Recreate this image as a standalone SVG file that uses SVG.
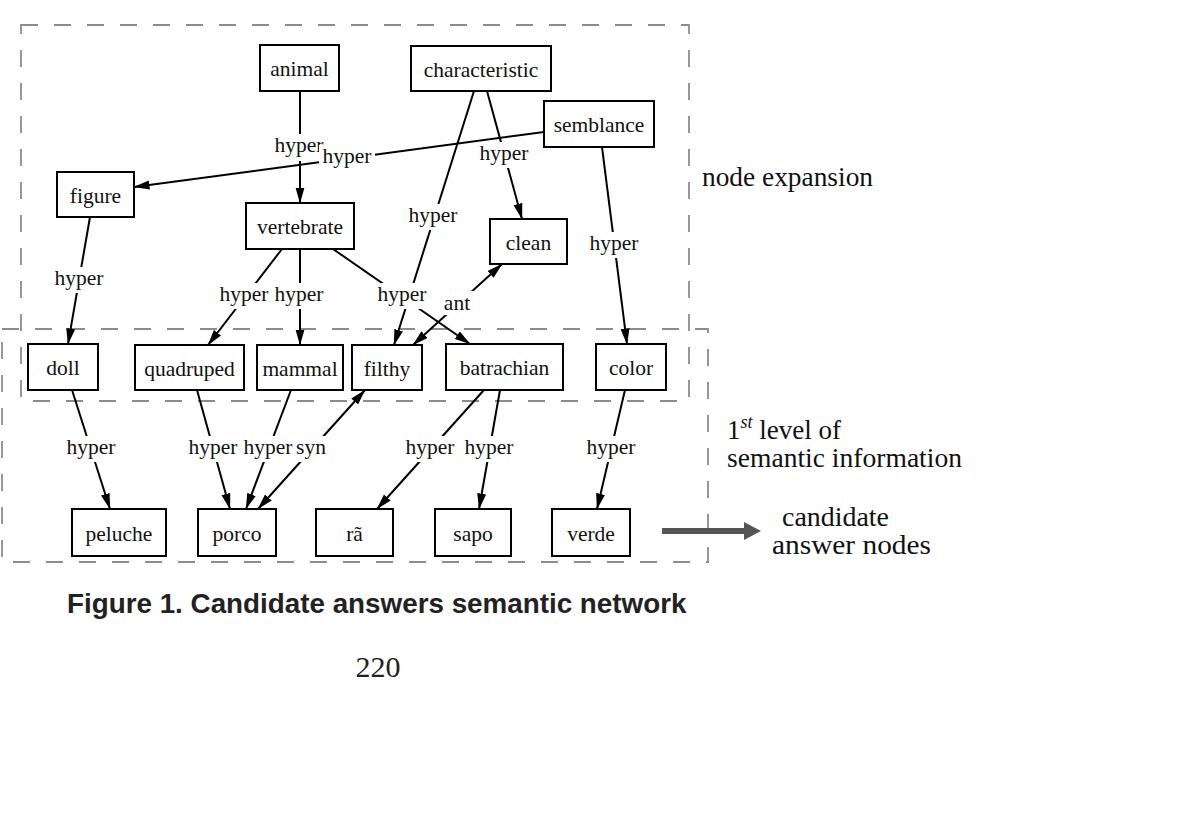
<svg xmlns="http://www.w3.org/2000/svg" width="1186" height="813" viewBox="0 0 1186 813">
<style>
.box{fill:#fff;stroke:#000;stroke-width:2}
.nt{font-family:"Liberation Serif","Times New Roman",serif;font-size:21.5px;fill:#111;text-anchor:middle}
.e{stroke:#000;stroke-width:2;fill:none;marker-end:url(#ah)}
.bi{marker-start:url(#ah)}
.lb{fill:#fff;stroke:none}
.region{fill:none;stroke:#8c8c8c;stroke-width:1.8;stroke-dasharray:17 16}
.side{font-family:"Liberation Serif","Times New Roman",serif;font-size:27px;fill:#111}
</style>
<defs>
<marker id="ah" markerUnits="userSpaceOnUse" markerWidth="17" markerHeight="10" refX="15.5" refY="5" orient="auto-start-reverse" viewBox="0 0 17 10">
<path d="M0,0.5 L16,5 L0,9.5 z" fill="#000"/>
</marker>
</defs>
<rect width="1186" height="813" fill="#fff"/>
<g id="regions">
<rect class="region" x="21" y="25" width="668" height="376"/>
<rect class="region" x="2" y="329" width="706" height="233"/>
</g>
<g id="connectors">
<line class="e" x1="300" y1="91" x2="300" y2="203"/>
<line class="e" x1="544" y1="132" x2="134" y2="187"/>
<line class="e" x1="487" y1="91" x2="522" y2="219"/>
<line class="e" x1="474" y1="91" x2="394" y2="345"/>
<line class="e" x1="602" y1="147" x2="627" y2="344"/>
<line class="e" x1="90" y1="217" x2="68" y2="344"/>
<line class="e" x1="282" y1="249" x2="208" y2="345"/>
<line class="e" x1="300" y1="249" x2="300" y2="345"/>
<line class="e" x1="333" y1="249" x2="470" y2="344"/>
<line class="e bi" x1="413" y1="345" x2="502" y2="264"/>
<line class="e" x1="72" y1="390" x2="110" y2="509"/>
<line class="e" x1="197" y1="390" x2="230" y2="509"/>
<line class="e" x1="291" y1="390" x2="246" y2="509"/>
<line class="e bi" x1="365" y1="390" x2="258" y2="509"/>
<line class="e" x1="484" y1="390" x2="377" y2="509"/>
<line class="e" x1="500" y1="390" x2="479" y2="509"/>
<line class="e" x1="625" y1="390" x2="597" y2="509"/>
<g id="edge-labels">
<rect class="lb" x="272" y="134" width="54" height="27"/><text class="nt" x="299" y="152">hyper</text>
<rect class="lb" x="319" y="145" width="56" height="26"/><text class="nt" x="347" y="163">hyper</text>
<rect class="lb" x="477" y="142" width="54" height="26"/><text class="nt" x="504" y="160">hyper</text>
<rect class="lb" x="406" y="204" width="54" height="26"/><text class="nt" x="433" y="222">hyper</text>
<rect class="lb" x="587" y="232" width="54" height="26"/><text class="nt" x="614" y="250">hyper</text>
<rect class="lb" x="52" y="267" width="54" height="26"/><text class="nt" x="79" y="285">hyper</text>
<rect class="lb" x="217" y="283" width="54" height="26"/><text class="nt" x="244" y="301">hyper</text>
<rect class="lb" x="272" y="283" width="54" height="26"/><text class="nt" x="299" y="301">hyper</text>
<rect class="lb" x="375" y="283" width="54" height="26"/><text class="nt" x="402" y="301">hyper</text>
<rect class="lb" x="440" y="291" width="34" height="24"/><text class="nt" x="457" y="310">ant</text>
<rect class="lb" x="64" y="436" width="54" height="26"/><text class="nt" x="91" y="454">hyper</text>
<rect class="lb" x="186" y="436" width="54" height="26"/><text class="nt" x="213" y="454">hyper</text>
<rect class="lb" x="241" y="436" width="54" height="26"/><text class="nt" x="268" y="454">hyper</text>
<rect class="lb" x="294" y="436" width="35" height="26"/><text class="nt" x="311" y="454">syn</text>
<rect class="lb" x="403" y="436" width="54" height="26"/><text class="nt" x="430" y="454">hyper</text>
<rect class="lb" x="462" y="436" width="54" height="26"/><text class="nt" x="489" y="454">hyper</text>
<rect class="lb" x="584" y="436" width="54" height="26"/><text class="nt" x="611" y="454">hyper</text>
</g>
</g>
<g id="animal"><rect class="box" x="260" y="45" width="79" height="46"/><text class="nt" x="299.5" y="76">animal</text></g>
<g id="characteristic"><rect class="box" x="411" y="46" width="140" height="45"/><text class="nt" x="481" y="76.5">characteristic</text></g>
<g id="semblance"><rect class="box" x="544" y="101" width="110" height="46"/><text class="nt" x="599" y="132">semblance</text></g>
<g id="figure"><rect class="box" x="57" y="172" width="77" height="45"/><text class="nt" x="95.5" y="202.5">figure</text></g>
<g id="vertebrate"><rect class="box" x="246" y="203" width="108" height="46"/><text class="nt" x="300" y="234">vertebrate</text></g>
<g id="clean"><rect class="box" x="490" y="219" width="77" height="45"/><text class="nt" x="528.5" y="249.5">clean</text></g>
<g id="doll"><rect class="box" x="28" y="344" width="70" height="46"/><text class="nt" x="63" y="375">doll</text></g>
<g id="quadruped"><rect class="box" x="135" y="345" width="109" height="45"/><text class="nt" x="189.5" y="375.5">quadruped</text></g>
<g id="mammal"><rect class="box" x="257" y="345" width="86" height="45"/><text class="nt" x="300" y="375.5">mammal</text></g>
<g id="filthy"><rect class="box" x="352" y="345" width="70" height="45"/><text class="nt" x="387" y="375.5">filthy</text></g>
<g id="batrachian"><rect class="box" x="446" y="344" width="117" height="46"/><text class="nt" x="504.5" y="375">batrachian</text></g>
<g id="color"><rect class="box" x="596" y="344" width="70" height="46"/><text class="nt" x="631" y="375">color</text></g>
<g id="peluche"><rect class="box" x="72" y="509" width="94" height="47"/><text class="nt" x="119" y="540.5">peluche</text></g>
<g id="porco"><rect class="box" x="198" y="509" width="78" height="47"/><text class="nt" x="237" y="540.5">porco</text></g>
<g id="ra"><rect class="box" x="316" y="509" width="77" height="47"/><text class="nt" x="354.5" y="540.5">rã</text></g>
<g id="sapo"><rect class="box" x="435" y="509" width="76" height="47"/><text class="nt" x="473" y="540.5">sapo</text></g>
<g id="verde"><rect class="box" x="552" y="509" width="78" height="47"/><text class="nt" x="591" y="540.5">verde</text></g>
<g id="legend">
<line x1="662" y1="531" x2="746" y2="531" stroke="#555" stroke-width="6"/>
<polygon points="744,522 761,531 744,540" fill="#555"/>
<text class="side" x="702" y="186" textLength="171" lengthAdjust="spacingAndGlyphs">node expansion</text>
<text class="side" x="727" y="439">1<tspan font-style="italic" font-size="18px" dy="-11">st</tspan><tspan dy="11"> level of</tspan></text>
<text class="side" x="727" y="467" textLength="235" lengthAdjust="spacingAndGlyphs">semantic information</text>
<text class="side" x="782" y="526" textLength="107" lengthAdjust="spacingAndGlyphs">candidate</text>
<text class="side" x="772" y="554" textLength="159" lengthAdjust="spacingAndGlyphs">answer nodes</text>
</g>
<text x="67" y="613" font-family="Liberation Sans, Arial, sans-serif" font-weight="bold" font-size="27.8px" fill="#222">Figure 1. Candidate answers semantic network</text>
<text x="378" y="677" font-family="Liberation Serif, Times New Roman, serif" font-size="30px" fill="#222" text-anchor="middle">220</text>
</svg>
